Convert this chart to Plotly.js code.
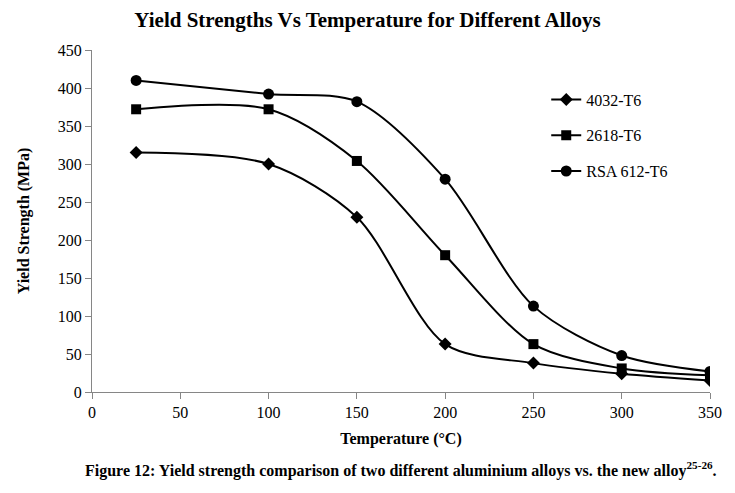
<!DOCTYPE html>
<html><head><meta charset="utf-8">
<script src="https://cdn.plot.ly/plotly-3.0.1.min.js"></script>
<style>html,body{margin:0;padding:0;background:#fff}#c{width:735px;height:493px}</style>
</head><body><div id="c"></div>
<script>
const temps = [25, 100, 150, 200, 250, 300, 350];
const alloy4032 = [315, 300, 230, 63, 38, 24, 15];
const alloy2618 = [372, 372, 304, 180, 63, 31, 22];
const alloyRSA = [410, 392, 382, 280, 113, 48, 27];
const seriesNames = ['4032-T6', '2618-T6', 'RSA 612-T6'];

const F = "'Liberation Serif', 'Times New Roman', serif";
function tr(y, name, sym, sz) {
  return {x: temps, y: y, name: name, legendgroup: name, type: 'scatter', mode: 'lines+markers',
    line: {color: '#000', width: 2, shape: 'spline', smoothing: 0.85},
    marker: {symbol: sym, size: sz, color: '#000'}};
}
const data = [
  tr(alloy4032, seriesNames[0], 'diamond', 10),
  tr(alloy2618, seriesNames[1], 'square', 10),
  tr(alloyRSA, seriesNames[2], 'circle', 11)
];
const layout = {
  width: 735, height: 493,
  margin: {l: 92, r: 25, t: 50, b: 101},
  paper_bgcolor: '#fff', plot_bgcolor: '#fff',
  font: {family: F, size: 16, color: '#000'},
  title: {text: '<b>Yield Strengths Vs Temperature for Different Alloys</b>', font: {family: F, size: 21, color: '#000'}, x: 0.5, xanchor: 'center', y: 0.975, yanchor: 'top'},
  xaxis: {range: [0, 350], tickvals: [0,50,100,150,200,250,300,350], showgrid: false, zeroline: false,
    showline: true, linecolor: '#868686', linewidth: 1, ticks: 'outside', tickcolor: '#868686', ticklen: 6,
    tickfont: {family: F, size: 16}, title: {text: '<b>Temperature (°C)</b>', font: {family: F, size: 16}, standoff: 12}},
  yaxis: {range: [0, 450], dtick: 50, showgrid: false, zeroline: false,
    showline: true, linecolor: '#868686', linewidth: 1, ticks: 'outside', tickcolor: '#868686', ticklen: 6,
    tickfont: {family: F, size: 16}, title: {text: '<b>Yield Strength (MPa)</b>', font: {family: F, size: 16}, standoff: 24}},
  legend: {x: 0.735, y: 0.905, xanchor: 'left', yanchor: 'top', font: {family: F, size: 16}, bgcolor: 'rgba(0,0,0,0)', tracegroupgap: 12, itemwidth: 30},
  showlegend: true,
  annotations: [{xref: 'paper', yref: 'paper', x: 0.5, y: -0.228, xanchor: 'center', yanchor: 'middle', showarrow: false,
    text: '<b>Figure 12: Yield strength comparison of two different aluminium alloys vs. the new alloy<sup>25-26</sup>.</b>',
    font: {family: F, size: 16, color: '#000'}}]
};
Plotly.newPlot('c', data, layout, {displayModeBar: false, staticPlot: true});
</script></body></html>
